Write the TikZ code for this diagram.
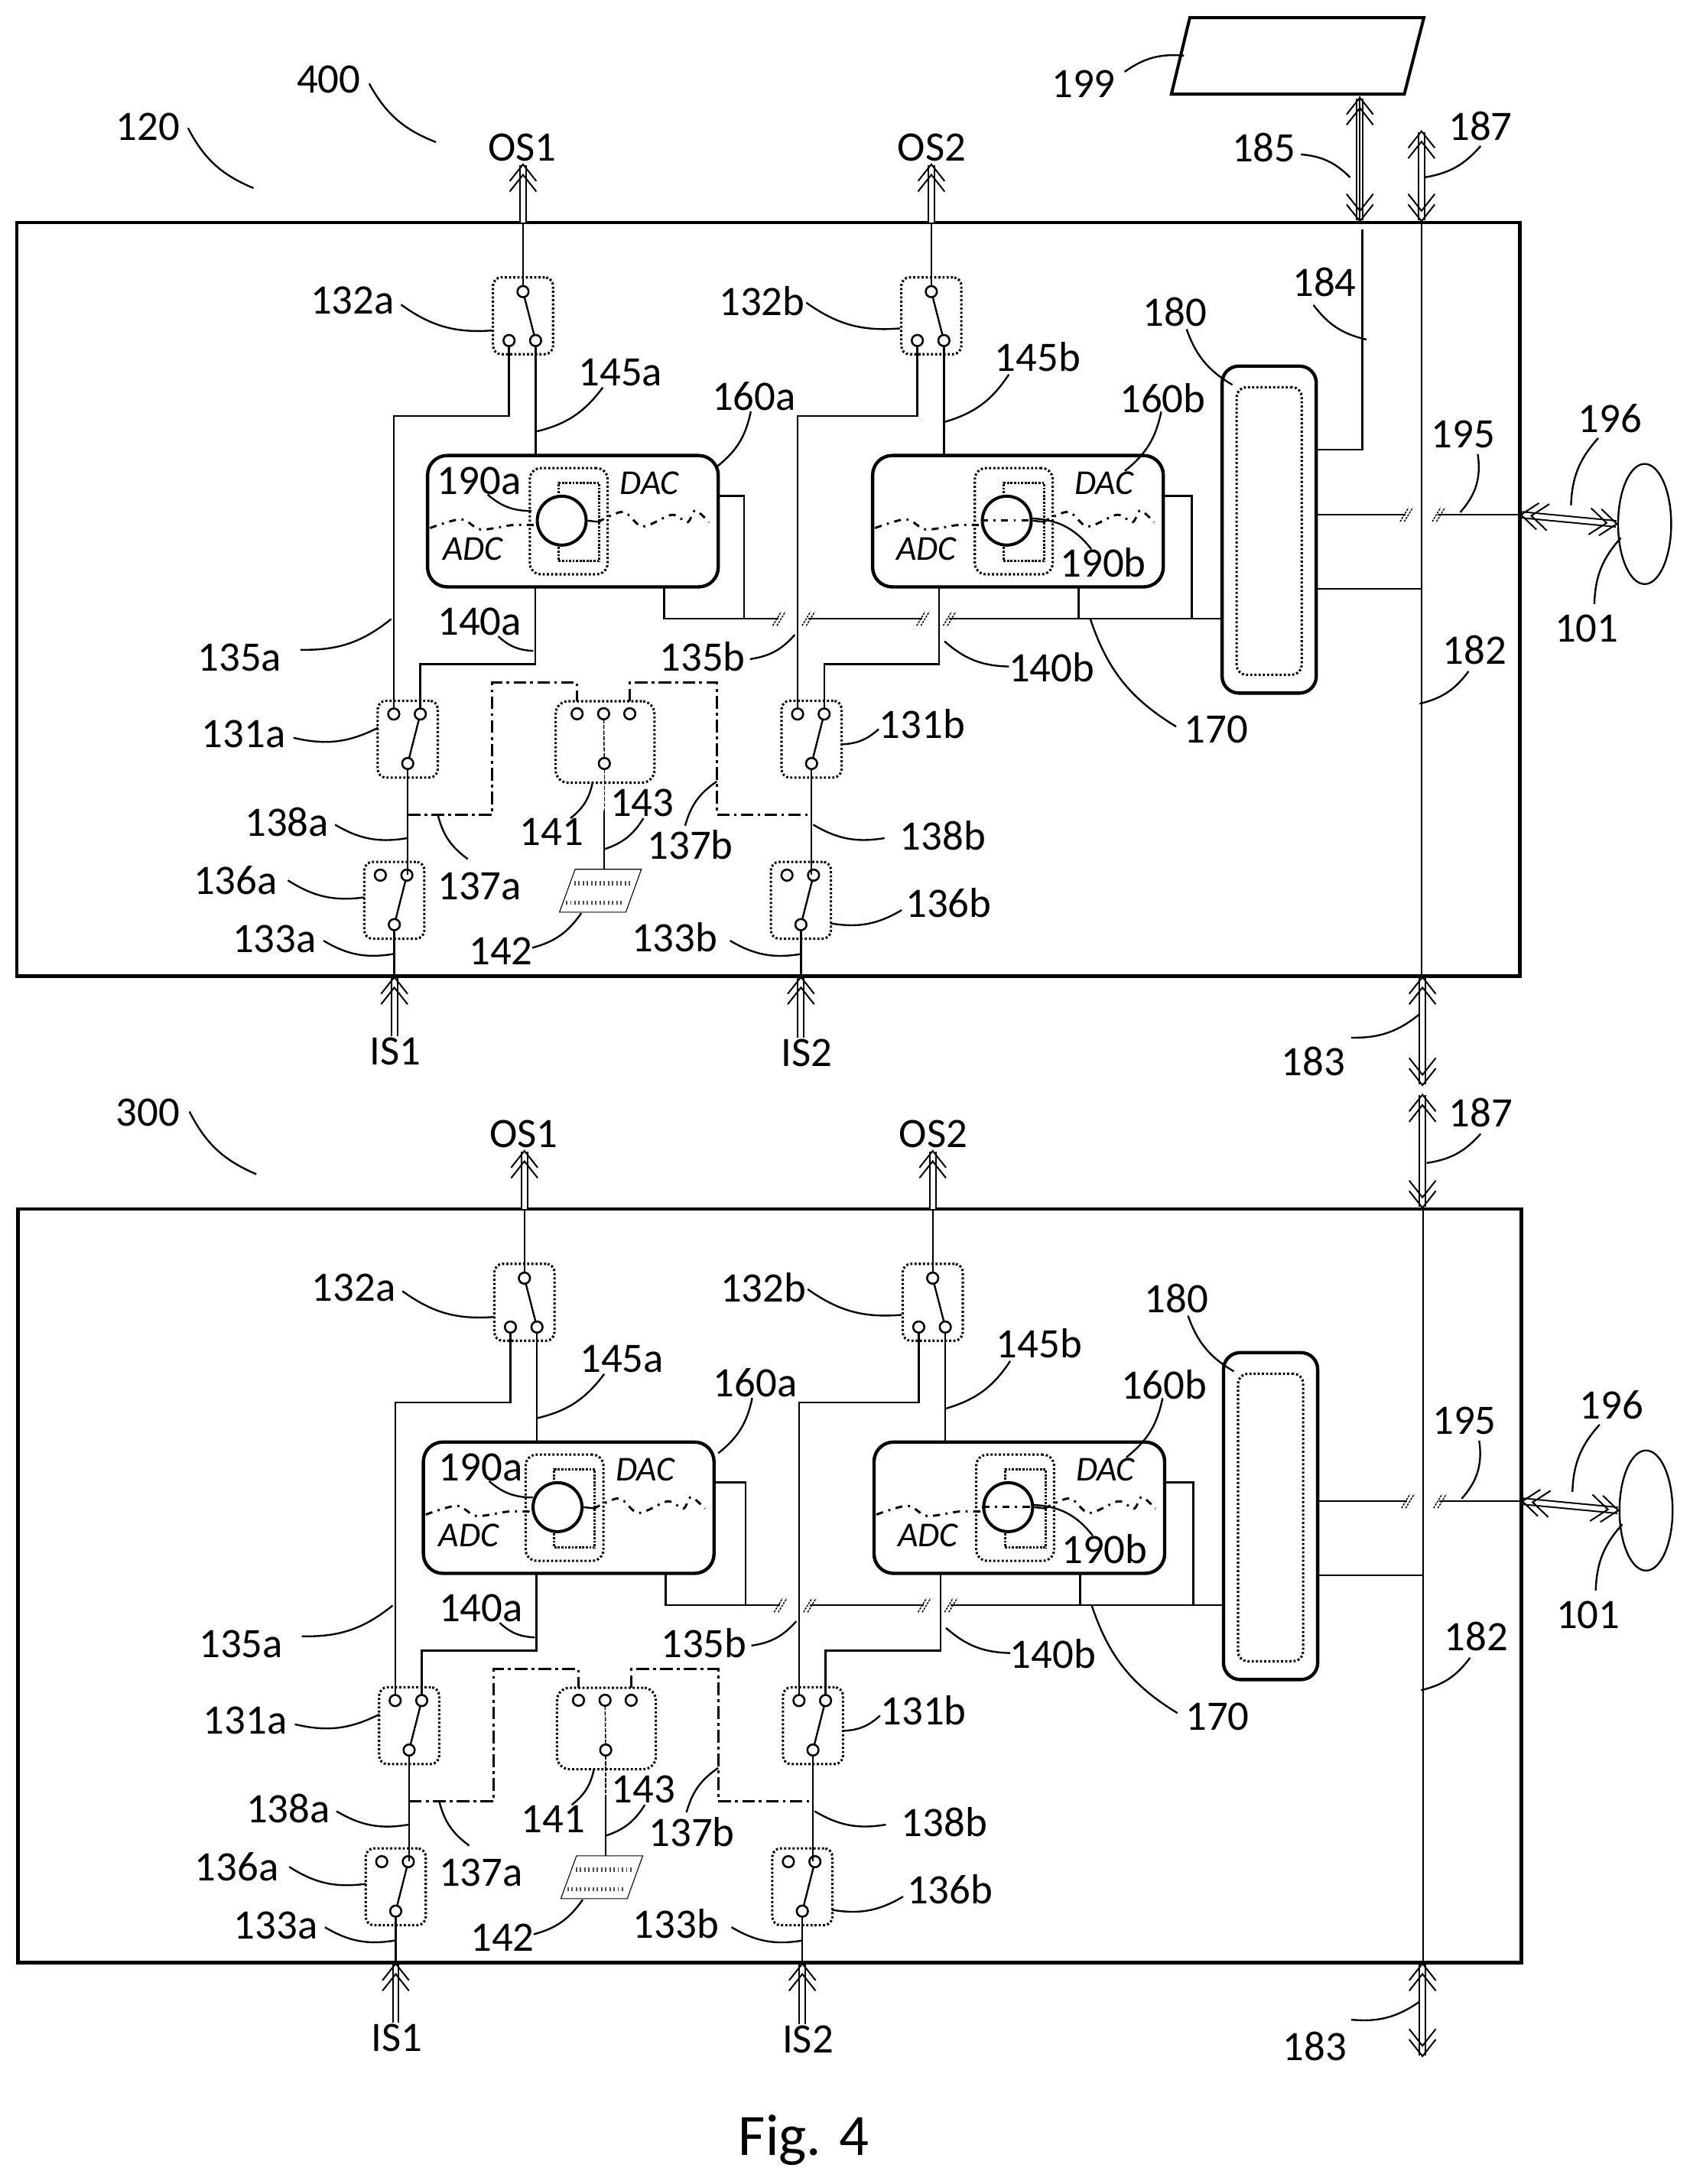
\documentclass[tikz,border=0pt]{standalone}
\usepackage{fontspec}
\setmainfont{Carlito}
\usetikzlibrary{arrows.meta,shapes.geometric}

\tikzset{
	lbl/.style={font=\fontsize{30}{32}\selectfont,inner sep=1pt},
	dacfont/.style={font=\fontsize{25}{27}\selectfont\itshape,inner sep=0pt},
	wire/.style={line width=1.3pt},
	leader/.style={line width=1.3pt},
	thinwire/.style={line width=.8pt,dash pattern=on 3pt off 1pt},
	swbox/.style={draw,line width=1.7pt,dash pattern=on 1.5pt off 1.5pt,rounded corners=6pt,inner sep=0pt,outer sep=0pt,minimum width=43pt,minimum height=55pt},
	term/.style={draw,circle,line width=1.4pt,inner sep=0pt,outer sep=0pt,minimum size=8pt,fill=white},
	dacbox/.style={draw,line width=2.4pt,rounded corners=14pt,inner sep=0pt,outer sep=0pt,minimum width=208pt,minimum height=94pt},
	dashdot/.style={line width=1.6pt,dash pattern=on 9pt off 3pt on 2pt off 3pt},
	wavy/.style={line width=1.6pt,dash pattern=on 5pt off 4pt on 1.5pt off 4pt},
	brkline/.style={line width=.8pt,dash pattern=on 1.5pt off .8pt},
	dtip/.tip={Straight Barb[length=12pt,width=19pt,line width=1.1pt,sep=-6pt]Straight Barb[length=12pt,width=19pt,line width=1.1pt]},
	dbarrow/.style={double,double distance=3.2pt,line width=1.1pt,arrows={-dtip}},
	dbboth/.style={double,double distance=3.2pt,line width=1.1pt,arrows={dtip-dtip}}
}

% two contacts above, one below
\newcommand{\swdown}[3]{
	\node[swbox] (#1) at (#2,#3) {};
	\node[term] (#1l) at ([shift={(-10,-18)}]#1) {};
	\node[term] (#1r) at ([shift={(9,-18)}]#1) {};
	\node[term] (#1c) at ([shift={(0,17.4)}]#1) {};
	\draw[wire] (#1c) -- (#1r);
}
% one contact above, two below
\newcommand{\swup}[3]{
	\node[swbox] (#1) at (#2,#3) {};
	\node[term] (#1c) at ([shift={(0,-17.3)}]#1) {};
	\node[term] (#1l) at ([shift={(-10,17.7)}]#1) {};
	\node[term] (#1r) at ([shift={(9,17.7)}]#1) {};
	\draw[wire] (#1c) -- (#1r);
}
\newcommand{\callout}[4][bend right=20]{
	\coordinate (#2s) at (#3);
	\coordinate (#2e) at (#4);
	\draw[leader] (#2s) to[#1] (#2e);
}
\newcommand{\brk}[2]{
	\draw[brkline] (#1-4,#2+5) -- (#1+2,#2-5);
	\draw[brkline] (#1-1,#2+5) -- (#1+5,#2-5);
}
% converter block, x-shifted
\newcommand{\dacblock}[4]{
	\begin{scope}[xshift=#2pt]
		\node[dacbox] (box#1) at (410,373) {};
		\node[swbox,minimum width=55.7pt,minimum height=76pt,rounded corners=8pt] (inner#1) at (407,373) {};
		\node[draw,line width=1.6pt,dash pattern=on 1.5pt off 1pt,inner sep=0pt,minimum width=29pt,minimum height=56pt] (rect#1) at (414.2,373.5) {};
		\node[draw,circle,line width=2.2pt,fill=white,inner sep=0pt,minimum size=35pt] (conv#1) at (402,372.6) {};
		\draw[wire] (conv#1.east) -- ++(9,1);
		\draw[wavy] plot[smooth] coordinates {(307.7,377.9) (330,371.6) (344,378.9) (366.4,375.8) (383,375.8)};
		\draw[wavy] plot[smooth] coordinates {(427.8,373.7) (446,366.3) (459.9,376.8) (480.9,368.4) (492,373.7) (497.6,365.3) (507.4,373.7)};
		\node[dacfont] (dac#1) at (#3,346) {DAC};
		\node[dacfont] (adc#1) at (#4,393) {ADC};
	\end{scope}
}

\newcommand{\drawpanel}[3]{
	\begin{scope}[shift={(#2)},name prefix=#1-]
		\node[draw,line width=2.6pt,inner sep=0pt,outer sep=0pt,minimum width=1075.6pt,minimum height=539.2pt] (frame) at (549.8,428.8) {};
		\coordinate (bus) at (1017.3,430);
		\draw[wire] (bus |- frame.north) -- (bus |- frame.south);

		\swup{swoa}{374.3}{226}
		\swup{swob}{666.5}{226}
		\swdown{swma}{291.8}{529}
		\swdown{swmb}{580.8}{529}
		\swdown{swia}{282.2}{644.3}
		\swdown{swib}{573.2}{644.3}

		\dacblock{a}{#3}{464.7}{338.5}
		\dacblock{b}{318.5}{471.5}{344.5}
		\draw[wavy] (convb.west) -- (convb.east);

		\node[swbox,minimum width=70.7pt,minimum height=58.3pt,rounded corners=9pt] (swc) at (433,531) {};
		\node[term] (swct1) at (413,510.8) {};
		\node[term] (swct2) at (432,510.8) {};
		\node[term] (swct3) at (450.7,510.8) {};
		\node[term] (swcc) at (432.5,546.4) {};
		\draw[thinwire] (swct2) -- (swcc);

		\node[draw,line width=2.4pt,rounded corners=12pt,inner sep=0pt,outer sep=0pt,minimum width=67.4pt,minimum height=234pt] (mem) at (908.3,379) {};
		\node[swbox,minimum width=46.6pt,minimum height=205.8pt,rounded corners=7pt] (memin) at (908.3,380) {};

		\node[draw,ellipse,line width=1.3pt,inner sep=0pt,outer sep=0pt,minimum width=38pt,minimum height=86pt] (eye) at (1177,375) {};

		\coordinate (p142) at (432.5,622.1);
		\draw[line width=.6pt] (411.6,622.1) -- (459,622.1) -- (447.9,652.8) -- (400.4,652.8) -- cycle;
		\draw[line width=3pt,dash pattern=on 1pt off 2pt,black!70] (411,632) -- (451,632);
		\draw[line width=3pt,dash pattern=on 1pt off 2pt,black!70] (405,646) -- (446,646);

		% labels
		\node[lbl] (os1) at (373.8,105.7) {OS1};
		\node[lbl] (os2) at (666.9,105.7) {OS2};
		\node[lbl] (is1) at (283.1,752.6) {IS1};
		\node[lbl] (is2) at (577.2,753.6) {IS2};
		\node[lbl] (n132a) at (252.2,215.3) {132a};
		\node[lbl] (n132b) at (545.3,215.3) {132b};
		\node[lbl] (n145a) at (444,266.4) {145a};
		\node[lbl] (n145b) at (742.6,255.2) {145b};
		\node[lbl] (n160a) at (539.5,283.6) {160a};
		\node[lbl] (n160b) at (832,284.7) {160b};
		\node[lbl] (n180) at (840.9,223) {180};
		\node[lbl] (n190a) at (343,344.4) {190a};
		\node[lbl] (n190b) at (789.5,402.7) {190b};
		\node[lbl] (n140a) at (343.2,444.9) {140a};
		\node[lbl] (n135a) at (171.5,470.5) {135a};
		\node[lbl] (n135b) at (502.7,470) {135b};
		\node[lbl] (n140b) at (752.6,477.5) {140b};
		\node[lbl] (n170) at (870.2,522.3) {170};
		\node[lbl] (n131a) at (174.4,525.3) {131a};
		\node[lbl] (n131b) at (659.9,518.3) {131b};
		\node[lbl] (n138a) at (205.3,588.1) {138a};
		\node[lbl] (n137a) at (343.2,634) {137a};
		\node[lbl] (n141) at (394.8,595.6) {141};
		\node[lbl] (n143) at (459.6,574.7) {143};
		\node[lbl] (n137b) at (494,604.8) {137b};
		\node[lbl] (n138b) at (674.8,598.1) {138b};
		\node[lbl] (n136a) at (168.5,630) {136a};
		\node[lbl] (n136b) at (678.8,645.9) {136b};
		\node[lbl] (n133a) at (196.4,671.8) {133a};
		\node[lbl] (n133b) at (482.8,670.5) {133b};
		\node[lbl] (n142) at (358.5,680.5) {142};
		\node[lbl] (n182) at (1055.3,465) {182};
		\node[lbl] (n195) at (1047,311) {195};
		\node[lbl] (n196) at (1152.2,299.3) {196};
		\node[lbl] (n101) at (1135.5,449.6) {101};

		% outputs and inputs
		\draw[wire] (swoac) -- (swoac |- frame.north);
		\draw[wire] (swobc) -- (swobc |- frame.north);
		\draw[dbarrow] (swoac |- frame.north) -- (swoac |- os1.south);
		\draw[dbarrow] (swobc |- frame.north) -- (swobc |- os2.south);
		\draw[wire] (swiac) -- (swiac |- frame.south);
		\draw[wire] (swibc) -- (swibc |- frame.south);
		\draw[dbarrow] (swiac |- is1.north) -- (swiac |- frame.south);
		\draw[dbarrow] (swibc |- is2.north) -- (swibc |- frame.south);

		% switch wires
		\draw[wire] (swoal) |- (swmal |- 0,297.7) -- (swmal);
		\draw[wire] (swobl) |- (swmbl |- 0,297.7) -- (swmbl);
		\draw[wire] (swoar) -- (swoar |- boxa.north);
		\draw[wire] (swobr) -- (swobr |- boxb.north);
		\coordinate (ja) at (383,475.3);
		\coordinate (jb) at (672,475.3);
		\draw[wire] (ja |- boxa.south) -- (ja) -| (swmar);
		\draw[wire] (jb |- boxb.south) -- (jb) -| (swmbr);
		\draw[wire] (swmac) -- (swmac |- swiar);
		\draw[wire] (swmbc) -- (swmbc |- swibr);

		% control lines
		\coordinate (c137a) at (352.4,488.6);
		\coordinate (c137b) at (513,488.6);
		\draw[dashdot] (swmac |- 0,582.9) -| (c137a) -| (swct1 |- swc.north);
		\draw[dashdot] (swct3 |- swc.north) |- (c137b) |- (swmbc |- 0,582.9);
		\draw[thinwire] (swcc) -- (432.5,580) coordinate (m143);
		\draw[wire] (m143) -- (p142);

		% data bus
		\coordinate (ba1) at (557,442.8);
		\coordinate (ba2) at (578.5,442.8);
		\coordinate (ba3) at (660,442.8);
		\coordinate (ba4) at (679,442.8);
		\coordinate (tapa) at (475.3,442.8);
		\coordinate (tapb) at (772,442.8);
		\coordinate (stba) at (532.5,442.8);
		\coordinate (stbb) at (852.9,442.8);
		\draw[wire] (tapa |- boxa.south) -- (tapa) -- (ba1);
		\draw[wire] (ba2) -- (ba3);
		\draw[wire] (ba4) -- (ba4 -| mem.west);
		\draw[wire] (tapb |- boxb.south) -- (tapb);
		\draw[wire] (boxa.east |- 0,354.8) -| (stba);
		\draw[wire] (boxb.east |- 0,354.8) -| (stbb);
		\brk{557}{442.8}
		\brk{578}{442.8}
		\brk{660}{442.8}
		\brk{679}{442.8}

		% memory side
		\coordinate (bk1) at (1006,368.3);
		\coordinate (bk2) at (1029,368.3);
		\draw[wire] (mem.east |- bk1) -- (bk1);
		\draw[wire] (bk2) -- (bk2 -| frame.east);
		\brk{1006}{368.3}
		\brk{1029}{368.3}
		\draw[wire] (mem.east |- 0,421.4) -- (bus |- 0,421.4);
		\draw[dbboth] (frame.east |- bk2) -- (eye.west);

		% callouts
		\callout{l132a}{287,218}{352.4,236.5}
		\callout{l132b}{577,216.6}{644.2,235}
		\callout[bend left=20]{l145a}{431.4,277.3}{383,309}
		\callout[bend left=20]{l145b}{722,268}{676,302}
		\callout[bend left=20]{l160a}{537.3,294.5}{513,334}
		\callout[bend left=20]{l160b}{831,294.6}{805,337}
		\callout{l180}{849.2,235.6}{882,275.4}
		\callout{l190a}{349,354}{380.3,365.7}
		\callout[bend left=25]{l190b}{738,371}{781,393}
		\callout{l140a}{356.6,455.4}{381.7,465.8}
		\callout{l135a}{215,465}{280,443}
		\callout{l135b}{536.7,471.7}{568.8,454.3}
		\callout{l140b}{676,459}{722,477}
		\callout{l170}{780.3,443}{841.7,520}
		\callout{l131a}{210,528}{270.6,520.8}
		\callout{l131b}{602,532.7}{628.8,521.8}
		\callout{l138a}{239.8,590.2}{291.5,599.8}
		\callout{l137a}{313.3,582.9}{334.8,614.8}
		\callout[bend left=20]{l141}{424.1,560}{408.2,585.6}
		\callout[bend left=20]{l143}{460.5,585.6}{432,607.9}
		\callout[bend right=20]{l137b}{513,559.2}{490.3,591}
		\callout{l138b}{582,590.2}{633,599.8}
		\callout{l136a}{206,630}{260.8,642.2}
		\callout{l136b}{594.5,660.8}{645.3,651.3}
		\callout{l133a}{231.5,673.2}{281.7,682.7}
		\callout{l133b}{522.5,673.2}{573.5,682.7}
		\callout{l142}{380.9,678.3}{416,653.5}
		\callout[bend left=20]{l182}{1051,480.4}{1016,503.6}
		\callout[bend left=25]{l195}{1057.6,325}{1045,366.6}
		\callout{l196}{1143.8,313.5}{1124.3,361.6}
		\callout[bend left=20]{l101}{1141,432.3}{1160,384.9}
	\end{scope}
}

\begin{document}
\begin{tikzpicture}[x=1pt,y=-1pt]
	\useasboundingbox (0,0) rectangle (1209,1563);

	\drawpanel{up}{0,0}{0}
	\drawpanel{lo}{1,706}{-4}

	% top of the page
	\draw[line width=2.2pt] (851.5,12.6) -- (1019,12.6) -- (1005,67.4) -- (838.3,67.4) -- cycle;
	\coordinate (d199) at (973.2,69);
	\coordinate (d184) at (975,164);
	\node[lbl] (n199) at (775.5,59.8) {199};
	\node[lbl] (n185) at (904.5,105.5) {185};
	\node[lbl] (n187u) at (1059.5,90.2) {187};
	\node[lbl] (n184) at (947.8,201.7) {184};
	\node[lbl] (n120) at (105.7,90.7) {120};
	\node[lbl] (n400) at (235.2,56.8) {400};
	\node[lbl] (n300) at (105.7,796.4) {300};
	\node[lbl] (n183u) at (940,759.6) {183};
	\node[lbl] (n187l) at (1059.6,796.4) {187};
	\node[lbl] (n183l) at (941,1464.3) {183};
	\node[lbl,font=\fontsize{42}{44}\selectfont] (fig) at (575.2,1531.5) {Fig. 4};

	\draw[dbboth] (d199) -- (d199 |- up-frame.north);
	\draw[wire] (d199) -- (d199 |- up-frame.north);
	\draw[wire] (d184) |- (up-mem.east |- 0,321.8);
	\coordinate (a187u) at (1017.3,93);
	\draw[dbboth] (a187u) -- (a187u |- up-frame.north);
	\coordinate (a183u) at (1018,777.5);
	\coordinate (a187l) at (1018,782.5);
	\coordinate (a183l) at (1018,1472.4);
	\draw[dbboth] (a183u |- up-frame.south) -- (a183u);
	\draw[dbboth] (a187l) -- (a187l |- lo-frame.north);
	\draw[dbboth] (a183l |- lo-frame.south) -- (a183l);

	\callout[bend left=20]{l199}{804.8,51.4}{847.3,39.8}
	\callout[bend left=20]{l185}{931,110.5}{966.2,127}
	\callout[bend left=20]{l187u}{1059.6,104.5}{1019,127}
	\callout{l184}{940,218.3}{978,243}
	\callout{l120}{134.6,91.7}{181.4,134.6}
	\callout{l400}{264.2,59.8}{312,101.7}
	\callout{l300}{135.6,795.5}{183.4,840.3}
	\callout{l183u}{967,742.6}{1016,725.7}
	\callout[bend left=20]{l187l}{1059.6,811.4}{1021,832.3}
	\callout{l183l}{967,1445.4}{1016,1432.4}
\end{tikzpicture}
\end{document}
